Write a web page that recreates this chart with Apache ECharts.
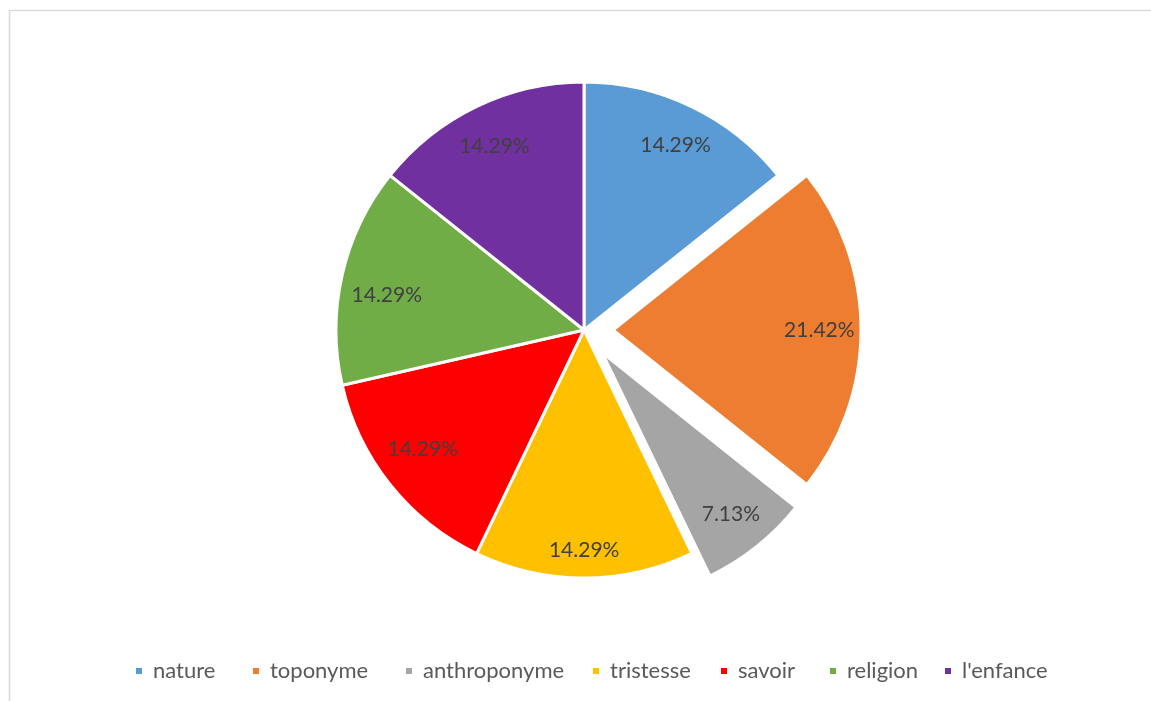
<!DOCTYPE html>
<html>
<head>
<meta charset="utf-8">
<script src="https://cdn.jsdelivr.net/npm/echarts@6/dist/echarts.min.js"></script>
<style>
html,body{margin:0;padding:0;background:#fff;}
#chart{width:1151px;height:701px;}
</style>
</head>
<body>
<div id="chart"></div>
<script>
const categories = ['nature', 'toponyme', 'anthroponyme', 'tristesse', 'savoir', 'religion', "l'enfance"];
const values = [14.29, 21.42, 7.13, 14.29, 14.29, 14.29, 14.29];
const exploded = ['toponyme', 'anthroponyme'];
const colors = ['#5B9BD5', '#ED7D31', '#A5A5A5', '#FFC000', '#FF0000', '#70AD47', '#7030A0'];
// layout helpers (not data): per-label nudges and legend item positions
const labelNudge = [[2, 1], [-7, 0], [5, 3], [0, 14], [0, -10], [4, 11], [0, 2]];
const legendLeft = [134, 251, 404, 591, 719, 828, 943];

const R = 248;
const center = [584, 330];
const offset = 29;

function makeData(withColor) {
  return categories.map((c, i) => ({
    name: c,
    value: values[i],
    selected: exploded.indexOf(c) >= 0,
    itemStyle: withColor ? { color: colors[i] } : { color: 'rgba(0,0,0,0)', borderWidth: 0 },
    label: withColor ? undefined : { offset: labelNudge[i] }
  }));
}

const legends = categories.map((c, i) => ({
  data: [c],
  left: legendLeft[i],
  top: 660,
  padding: 0,
  icon: 'rect',
  itemWidth: 8,
  itemHeight: 8,
  selectedMode: false,
  textStyle: { fontFamily: 'Lato', fontSize: 22, color: '#595959', padding: [0, 0, 0, 5] }
}));

const chart = echarts.init(document.getElementById('chart'), null, { renderer: 'canvas' });
chart.setOption({
  animation: false,
  color: colors,
  graphic: [{
    type: 'rect',
    shape: { x: 9.5, y: 10.5, width: 1160, height: 720 },
    style: { fill: 'none', stroke: '#D9D9D9', lineWidth: 1.5 },
    silent: true
  }],
  legend: legends,
  series: [
    {
      type: 'pie',
      center: center,
      radius: [0, R],
      startAngle: 90,
      clockwise: true,
      selectedMode: 'multiple',
      selectedOffset: offset,
      silent: true,
      itemStyle: { borderColor: '#fff', borderWidth: 3 },
      label: { show: false },
      labelLine: { show: false },
      data: makeData(true)
    },
    {
      type: 'pie',
      center: center,
      radius: [R * 0.64, R],
      startAngle: 90,
      clockwise: true,
      selectedMode: 'multiple',
      selectedOffset: offset,
      silent: true,
      z: 5,
      label: {
        show: true,
        position: 'inside',
        formatter: p => p.value.toFixed(2) + '%',
        fontFamily: 'Lato',
        fontSize: 21,
        color: '#404040'
      },
      labelLine: { show: false },
      data: makeData(false)
    }
  ]
});
</script>
</body>
</html>
